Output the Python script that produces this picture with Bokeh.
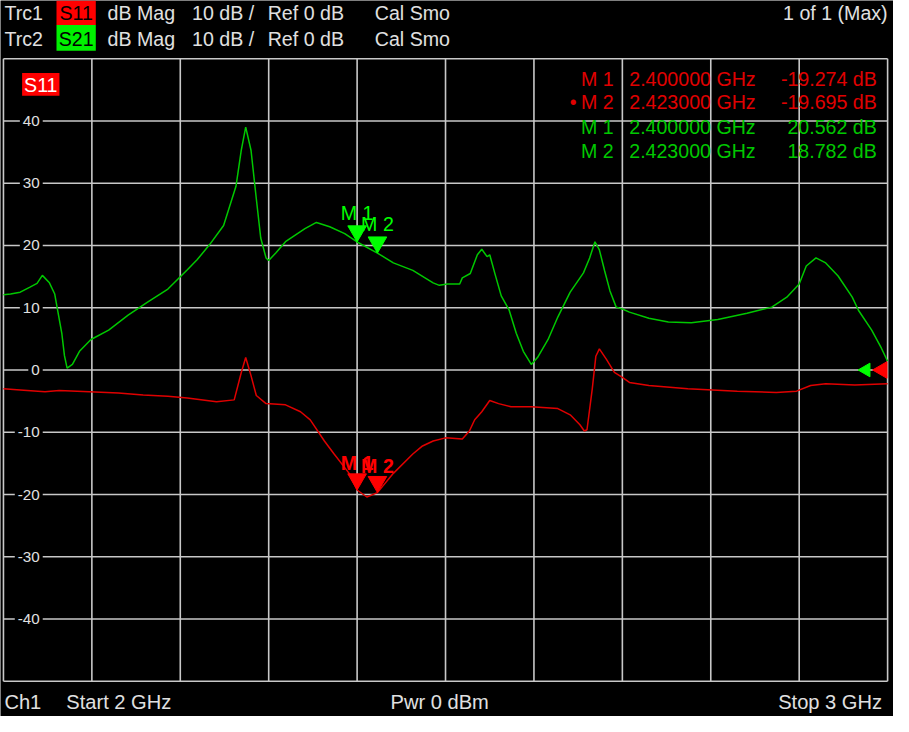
import math
from bokeh.plotting import figure
from bokeh.models import Range1d
from bokeh.core.properties import value
from bokeh.embed import file_html
from bokeh.resources import INLINE

# ---------------- data ----------------
f_start = 2.0
f_stop = 3.0
db_per_div = 10
ref_level_db = 0.0
x_grid_ticks = [2.0, 2.1, 2.2, 2.3, 2.4, 2.5, 2.6, 2.7, 2.8, 2.9, 3.0]
y_grid_ticks = [50, 40, 30, 20, 10, 0, -10, -20, -30, -40, -50]
y_label_values = [40, 30, 20, 10, 0, -10, -20, -30, -40]
y_label_texts = ["40", "30", "20", "10", "0", "-10", "-20", "-30", "-40"]

s21_freq_ghz = [2.000, 2.008, 2.019, 2.030, 2.038, 2.044, 2.052, 2.058, 2.061, 2.066,
                2.069, 2.072, 2.078, 2.086, 2.099, 2.119, 2.141, 2.163, 2.186, 2.208,
                2.219, 2.233, 2.249, 2.263, 2.269, 2.274, 2.280, 2.286, 2.291, 2.297,
                2.300, 2.308, 2.319, 2.341, 2.354, 2.369, 2.386, 2.400, 2.423, 2.441,
                2.463, 2.486, 2.493, 2.502, 2.516, 2.519, 2.528, 2.536, 2.541, 2.547,
                2.550, 2.556, 2.563, 2.572, 2.580, 2.588, 2.597, 2.604, 2.616, 2.627,
                2.641, 2.656, 2.663, 2.669, 2.674, 2.680, 2.686, 2.693, 2.700, 2.708,
                2.730, 2.752, 2.778, 2.808, 2.841, 2.869, 2.886, 2.900, 2.908, 2.919,
                2.930, 2.944, 2.960, 2.967, 2.982, 2.993, 3.000]
s21_db = [12.1, 12.2, 12.5, 13.3, 13.9, 15.2, 14.0, 12.2, 9.8, 5.9,
          2.3, 0.3, 0.9, 3.0, 4.9, 6.4, 8.8, 10.9, 13.0, 16.1,
          17.7, 20.1, 23.2, 29.5, 35.3, 39.0, 35.3, 27.5, 21.2, 18.0,
          17.6, 18.8, 20.6, 22.7, 23.7, 23.0, 21.9, 20.562, 18.782, 17.2,
          16.0, 14.0, 13.6, 13.8, 13.8, 14.8, 15.5, 18.5, 19.4, 18.2,
          18.5, 15.4, 11.9, 9.6, 5.9, 3.0, 0.9, 2.0, 4.9, 8.5,
          12.5, 15.6, 18.0, 20.6, 19.3, 15.9, 12.7, 10.1, 9.8, 9.3,
          8.3, 7.7, 7.6, 8.1, 9.1, 10.1, 11.7, 13.8, 16.7, 18.0,
          17.2, 15.1, 11.7, 9.6, 6.4, 3.5, 1.4]

s11_freq_ghz = [2.000, 2.019, 2.047, 2.063, 2.097, 2.130, 2.158, 2.186, 2.208, 2.219,
                2.241, 2.261, 2.269, 2.274, 2.280, 2.286, 2.297, 2.319, 2.336, 2.347,
                2.363, 2.374, 2.391, 2.400, 2.411, 2.423, 2.441, 2.463, 2.474, 2.486,
                2.500, 2.519, 2.527, 2.533, 2.541, 2.550, 2.560, 2.574, 2.597, 2.627,
                2.641, 2.652, 2.657, 2.660, 2.666, 2.670, 2.674, 2.682, 2.691, 2.700,
                2.708, 2.730, 2.774, 2.830, 2.874, 2.897, 2.913, 2.930, 2.963, 3.000]
s11_db = [-3.0, -3.2, -3.5, -3.3, -3.5, -3.7, -4.0, -4.2, -4.5, -4.7,
          -5.1, -4.8, -0.4, 2.0, -0.9, -4.1, -5.4, -5.6, -6.7, -8.0,
          -11.4, -13.5, -16.6, -19.274, -20.4, -19.695, -16.6, -13.5, -12.2, -11.4,
          -10.9, -11.1, -9.8, -8.0, -6.7, -4.9, -5.4, -5.9, -5.9, -6.2,
          -7.2, -8.8, -9.8, -9.6, -3.0, 2.2, 3.4, 1.7, -0.4, -1.2,
          -2.0, -2.5, -3.0, -3.4, -3.6, -3.4, -2.5, -2.2, -2.4, -2.2]

marker_labels = ["M 1", "M 2"]
marker_freq_ghz = [2.400000, 2.423000]
s11_marker_db = [-19.274, -19.695]
s21_marker_db = [20.562, 18.782]

# ---------------- layout (reference pixels -> data) ----------------
W, H = 893, 716
REF_W, REF_H = 909, 732
SX, SY = W / REF_W, H / REF_H
S = (SX + SY) / 2
PL, PR, PT, PB = 3.0, 903.0, 59.5, 696.0
y_top, y_bot = max(y_grid_ticks), min(y_grid_ticks)


def X(px):
    return f_start + (px - PL) / (PR - PL) * (f_stop - f_start)


def Y(py):
    return y_top - (py - PT) / (PB - PT) * (y_top - y_bot)


db_per_px = (y_top - y_bot) / ((PB - PT) * SY)

FONT = value("Liberation Sans")
FS = f"{20 * S:.1f}px"
GRID = "#c8c8c8"
TXT = "#e0e0e0"
RED_T = "#e00000"
GRN_T = "#00c800"
RED_M = "#ff0000"
GRN_M = "#00ff00"
MID = "middle"

p = figure(width=W, height=H, x_range=Range1d(X(0), X(REF_W)),
           y_range=Range1d(Y(REF_H), Y(0)), output_backend="svg",
           toolbar_location=None, x_axis_location=None, y_axis_location=None,
           min_border=0, background_fill_color="black", border_fill_color="black",
           outline_line_color=None)
p.xgrid.visible = False
p.ygrid.visible = False

# grid / frame
n = len(x_grid_ticks)
p.segment(x0=x_grid_ticks, y0=[y_bot] * n, x1=x_grid_ticks, y1=[y_top] * n,
          line_color=GRID, line_width=1.6)
m = len(y_grid_ticks)
p.segment(x0=[f_start] * m, y0=y_grid_ticks, x1=[f_stop] * m, y1=y_grid_ticks,
          line_color=GRID, line_width=1.6)

# y labels inside plot
p.text(x=[X(43)] * len(y_label_values), y=y_label_values, text=y_label_texts,
       text_align="right", text_baseline=MID, text_font=FONT,
       text_font_size=f"{15.5 * S:.1f}px", text_color=TXT,
       background_fill_color="black", padding=3)

# traces
p.line(s21_freq_ghz, s21_db, line_color=GRN_T, line_width=1.5)
p.line(s11_freq_ghz, s11_db, line_color=RED_T, line_width=1.5)

# markers (apex on the trace point)
tri = 19 * S
off = (2 * (tri * math.sqrt(3) / 2) / 3) * db_per_px
p.scatter(marker_freq_ghz, [v + off for v in s21_marker_db], marker="inverted_triangle",
          size=tri, fill_color=GRN_M, line_color=GRN_M)
p.scatter(marker_freq_ghz, [v + off for v in s11_marker_db], marker="inverted_triangle",
          size=tri, fill_color=RED_M, line_color=RED_M)
p.text(marker_freq_ghz, s21_marker_db, text=marker_labels, text_align="center",
       text_baseline=MID, y_offset=-29.5 * SY, text_font=FONT,
       text_font_size=FS, text_color=GRN_M)
p.text(marker_freq_ghz, s11_marker_db, text=marker_labels, text_align="center",
       text_baseline=MID, y_offset=-27.5 * SY, text_font=FONT,
       text_font_size=FS, text_color=RED_M, text_font_style="bold")

# reference level arrows at right edge
p.scatter([X(881)], [ref_level_db], marker="triangle", angle=math.pi / 2,
          size=14 * S, fill_color=GRN_M, line_color=GRN_M)
p.scatter([X(897.5)], [ref_level_db], marker="triangle", angle=math.pi / 2,
          size=17 * S, fill_color=RED_M, line_color=RED_M)

# S11 label in plot
p.quad(left=[X(22)], right=[X(60)], top=[Y(74)], bottom=[Y(97.5)],
       fill_color="#ff0000", line_color=None)
p.text([X(41)], [Y(86)], text=["S11"], text_align="center", text_baseline=MID,
       text_font=FONT, text_font_size=FS, text_color="white")

# marker table
rows_y = [Y(80), Y(104), Y(129), Y(154)]
row_cols = [RED_T, RED_T, GRN_T, GRN_T]
names = marker_labels + marker_labels
freqs = [f"{f:.6f} GHz" for f in marker_freq_ghz] * 2
vals = [f"{v:.3f} dB" for v in s11_marker_db] + [f"{v:.3f} dB" for v in s21_marker_db]
p.text([X(591)] * 4, rows_y, text=names, text_align="left", text_baseline=MID,
       text_font=FONT, text_font_size=FS, text_color=row_cols)
p.text([X(640)] * 4, rows_y, text=freqs, text_align="left", text_baseline=MID,
       text_font=FONT, text_font_size=FS, text_color=row_cols)
p.text([X(892)] * 4, rows_y, text=vals, text_align="right", text_baseline=MID,
       text_font=FONT, text_font_size=FS, text_color=row_cols)
p.text([X(583)], [Y(104)], text=["\u2022"], text_align="center", text_baseline=MID,
       text_font=FONT, text_font_size=FS, text_color=RED_T)

# header
p.quad(left=[X(57), X(57)], right=[X(97), X(97)], top=[Y(0), Y(25)],
       bottom=[Y(25), Y(51.5)], fill_color=["#ff0000", "#00f000"], line_color=None)
hy = [Y(13), Y(39)]
scale_txt = f"{db_per_div:g} dB /"
ref_txt = f"Ref {ref_level_db:g} dB"
p.text([X(4)] * 2, hy, text=["Trc1", "Trc2"], text_align="left", text_baseline=MID,
       text_font=FONT, text_font_size=FS, text_color=TXT)
p.text([X(77)] * 2, hy, text=["S11", "S21"], text_align="center", text_baseline=MID,
       text_font=FONT, text_font_size=FS, text_color="black")
for px, t in [(109, "dB Mag"), (195, scale_txt), (272, ref_txt), (381, "Cal Smo")]:
    p.text([X(px)] * 2, hy, text=[t, t], text_align="left", text_baseline=MID,
           text_font=FONT, text_font_size=FS, text_color=TXT)
p.text([X(903)], [hy[0]], text=["1 of 1 (Max)"], text_align="right",
       text_baseline=MID, text_font=FONT, text_font_size=FS, text_color=TXT)

# footer
fy = Y(717.5)
FS2 = f"{20.5 * S:.1f}px"
p.text([X(4), X(67), X(397)], [fy] * 3,
       text=["Ch1", f"Start  {f_start:g} GHz", "Pwr  0 dBm"], text_align="left",
       text_baseline=MID, text_font=FONT, text_font_size=FS2, text_color=TXT)
p.text([X(903)], [fy], text=[f"Stop  {f_stop:g} GHz"], text_align="right",
       text_baseline=MID, text_font=FONT, text_font_size=FS2, text_color=TXT)

open("out.html", "w").write(file_html(p, INLINE))
